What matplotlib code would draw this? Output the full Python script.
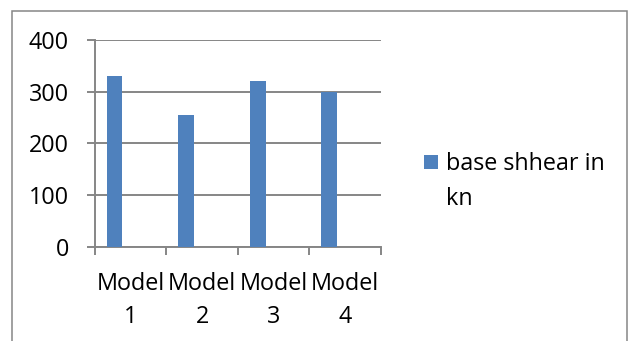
import matplotlib
matplotlib.use('Agg')
import matplotlib.pyplot as plt
from matplotlib.patches import Rectangle
import numpy as np

modelos = ['Model\n1', 'Model\n2', 'Model\n3', 'Model\n4']
base_shear = [330, 255, 320, 300]
serie = 'base shhear in'
serie_linha2 = 'kn'

cinza = '#868686'
azul = '#4F81BD'

plt.rcParams['font.family'] = ['Open Sans', 'DejaVu Sans']
plt.rcParams['text.color'] = '#000000'

fig = plt.figure(figsize=(6.28, 3.41), dpi=100)
ax = fig.add_axes([0.1508, 0.2757, 0.4559, 0.6070])

x = np.arange(len(modelos))
barras = ax.bar(x - 0.223, base_shear, 0.22, color=azul, label=serie, zorder=3)

ax.set_xlim(-0.5, len(modelos) - 0.5)
ax.set_ylim(0, 400)
ax.set_yticks([0, 100, 200, 300, 400])
ax.yaxis.grid(True, color=cinza, linewidth=1.4)
ax.set_axisbelow(True)

# separadores das categorias no eixo x
ax.set_xticks(x)
ax.set_xticklabels(modelos, fontsize=16.8, linespacing=1.5, color='black')
ax.set_xticks(np.arange(len(modelos) + 1) - 0.5, minor=True)
ax.tick_params(axis='x', which='major', length=0, pad=18)
ax.tick_params(axis='x', which='minor', length=5.5, color=cinza, width=1.4, direction='out')
ax.tick_params(axis='y', length=5.8, color=cinza, width=1.4, pad=12.7,
               labelsize=16.8, labelcolor='black')

for lado in ['top', 'right']:
    ax.spines[lado].set_visible(False)
for lado in ['left', 'bottom']:
    ax.spines[lado].set_color(cinza)
    ax.spines[lado].set_linewidth(1.4)

leg = fig.legend(handles=[barras], labels=[serie], loc='upper left',
                 bbox_to_anchor=(424 / 628, 1 - 152 / 341), frameon=False,
                 fontsize=16.8, handlelength=0.6, handleheight=0.55,
                 handletextpad=0.33, borderpad=0, borderaxespad=0)

# segunda linha do texto da legenda
fig.canvas.draw()
txt = leg.get_texts()[0]
bb = txt.get_window_extent().transformed(fig.transFigure.inverted())
fig.text(bb.x0, bb.y0 - 35 / 341, serie_linha2, fontsize=16.8, ha='left', va='bottom')

# moldura externa
fig.patches.append(Rectangle((12 / 628, -0.1), 615 / 628, 1.1 - 10.5 / 341,
                             transform=fig.transFigure, fill=False,
                             edgecolor=cinza, linewidth=1.1))

fig.savefig('out.png', dpi=100)
